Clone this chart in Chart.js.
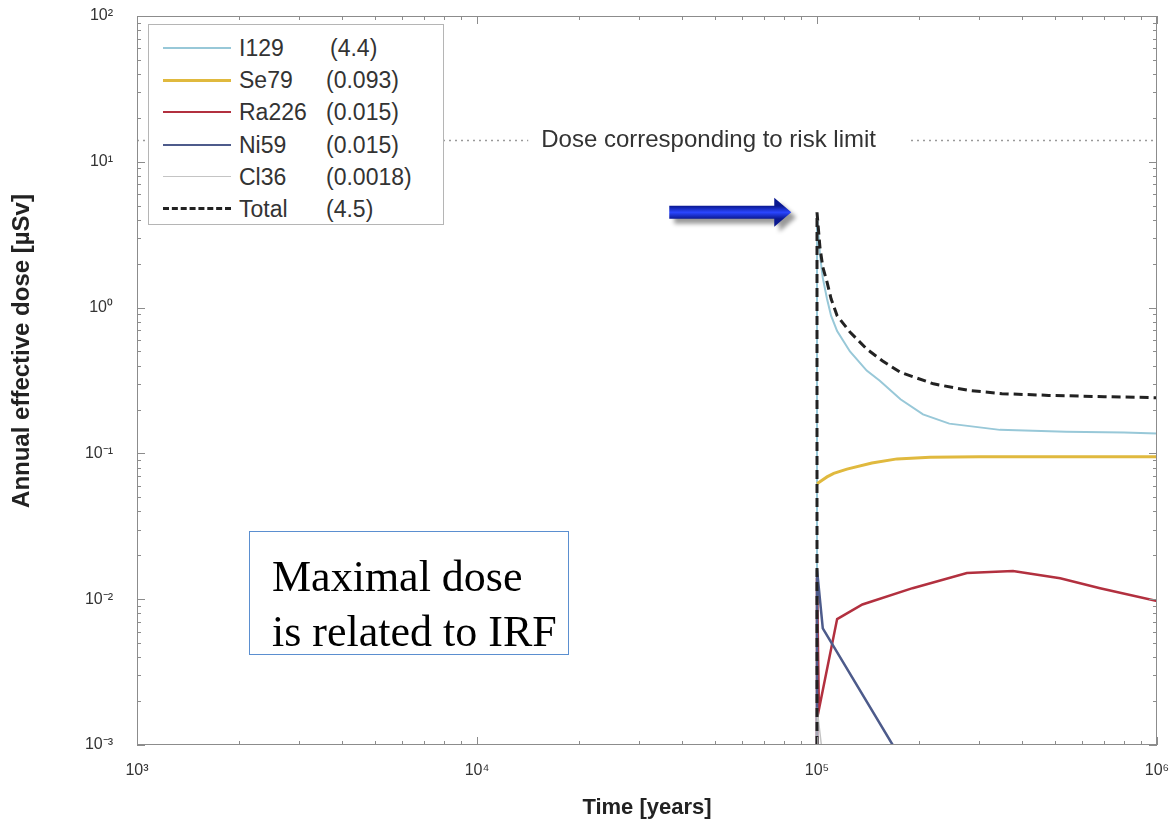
<!DOCTYPE html>
<html>
<head>
<meta charset="utf-8">
<title>Annual effective dose</title>
<script src="https://cdn.jsdelivr.net/npm/chart.js@4/dist/chart.umd.min.js"></script>
<style>
    body { margin: 0; background: #fff; }
    #wrap { position: relative; width: 1171px; height: 826px; }
    #legend {
        position: absolute; left: 148px; top: 24px; width: 294px; height: 199px;
        border: 1px solid #b5b5b5; background: #fff;
        font-family: "Liberation Sans", Arial, sans-serif; font-size: 23px; color: #333;
    }
    .row { position: absolute; left: 0; width: 100%; height: 32px; }
    .sample { position: absolute; left: 14px; width: 68px; top: 15px; height: 0; }
    .name, .value { position: absolute; top: 2px; white-space: nowrap; line-height: 28px; }
    .name { left: 90px; }
    .value { left: 177px; }
    #note {
        position: absolute; left: 249px; top: 531px; width: 320px; height: 124px;
        box-sizing: border-box; border: 1px solid #5b8fd0; padding: 17px 0 0 22px;
        font-family: "Liberation Serif", "Times New Roman", serif; font-size: 44px;
        line-height: 55px; color: #000; background: #fff;
    }
</style>
</head>
<body>
<div id="wrap">
    <canvas id="graficoDose"></canvas>
    <div id="legend"></div>
    <div id="note"></div>
</div>

<script>
// legend entries (name and maximal dose in brackets)
const nuclideNames = ["I129", "Se79", "Ra226", "Ni59", "Cl36", "Total"];
const nuclideMax = ["(4.4)", "(0.093)", "(0.015)", "(0.015)", "(0.0018)", "(4.5)"];

// time [years] and dose [µSv]
const i129Time = [1e5, 1e5, 1.02e5, 1.04e5, 1.07e5, 1.1e5, 1.146e5, 1.25e5, 1.4e5, 1.53e5, 1.76e5, 2.05e5, 2.45e5, 3.45e5, 5.4e5, 8e5, 1e6];
const i129Dose = [0.001, 4.4, 2.3, 1.6, 1.15, 0.88, 0.69, 0.5, 0.37, 0.315, 0.235, 0.185, 0.16, 0.145, 0.141, 0.139, 0.137];

const se79Time = [1e5, 1.03e5, 1.07e5, 1.12e5, 1.225e5, 1.45e5, 1.72e5, 2.15e5, 3e5, 6e5, 1e6];
const se79Dose = [0.062, 0.065, 0.069, 0.073, 0.078, 0.086, 0.0917, 0.094, 0.095, 0.095, 0.095];

const ra226Time = [1e5, 1e5, 1.013e5, 1.146e5, 1.36e5, 1.91e5, 2.76e5, 3.77e5, 5.19e5, 6.8e5, 1e6];
const ra226Dose = [0.001, 0.014, 0.00175, 0.0073, 0.0092, 0.0119, 0.0151, 0.0156, 0.0139, 0.0119, 0.0097];

const ni59Time = [1e5, 1e5, 1.04e5, 1.67e5];
const ni59Dose = [0.001, 0.016, 0.0063, 0.001];

const cl36Time = [1e5, 1e5, 1.03e5];
const cl36Dose = [0.001, 0.0018, 0.001];

const totalTime = [1e5, 1e5, 1.02e5, 1.04e5, 1.07e5, 1.1e5, 1.146e5, 1.25e5, 1.4e5, 1.56e5, 1.76e5, 2.2e5, 2.8e5, 3.5e5, 4.8e5, 7e5, 1e6];
const totalDose = [0.001, 4.5, 2.6, 1.9, 1.5, 1.15, 0.88, 0.68, 0.52, 0.43, 0.36, 0.3, 0.27, 0.257, 0.25, 0.245, 0.241];

const riskTime = [1e3, 1e6];
const riskDose = [14, 14];
const riskText = "Dose corresponding to risk limit";

const noteLines = ["Maximal dose", "is related to IRF"];
const arrowTip = [8.4e4, 4.5];

// styles
const lineColors = ["#98c8d8", "#e0b93e", "#b2303f", "#4d5b8b", "#c4c4c4", "#222222"];
const lineWidths = [2, 3, 2.5, 2.5, 1.5, 3];

const superDigits = {
    "-": "⁻", "0": "⁰", "1": "¹", "2": "²", "3": "³",
    "4": "⁴", "5": "⁵", "6": "⁶", "7": "⁷", "8": "⁸", "9": "⁹"
};

function powerLabel(value) {
    let exp = Math.log10(value);
    if (Math.abs(exp - Math.round(exp)) > 1e-6) return "";
    return "10" + String(Math.round(exp)).split("").map(function(c) {
        return superDigits[c];
    }).join("");
}

function toPoints(times, doses) {
    return times.map(function(t, i) {
        return { x: t, y: doses[i] };
    });
}

function montarLegenda() {
    const box = document.getElementById("legend");
    nuclideNames.forEach(function(name, i) {
        let row = document.createElement("div");
        row.className = "row";
        row.style.top = (7 + i * 32.2) + "px";

        let sample = document.createElement("div");
        sample.className = "sample";
        if (name === "Total") {
            sample.style.borderTop = "3px dashed " + lineColors[i];
            sample.style.marginTop = "-1px";
        } else {
            sample.style.borderTop = lineWidths[i] + "px solid " + lineColors[i];
        }

        let label = document.createElement("span");
        label.className = "name";
        label.textContent = name;

        let value = document.createElement("span");
        value.className = "value";
        value.textContent = nuclideMax[i];
        if (name === "I129") value.style.left = "181px";

        row.appendChild(sample);
        row.appendChild(label);
        row.appendChild(value);
        box.appendChild(row);
    });

    document.getElementById("note").innerHTML = noteLines.join("<br>");
}

const extras = {
    id: "extras",

    afterDatasetsDraw(chart) {
        const ctx = chart.ctx;
        const a = chart.chartArea;
        const xs = chart.scales.x;
        const ys = chart.scales.y;

        ctx.save();

        // frame
        ctx.strokeStyle = "#8c8c8c";
        ctx.lineWidth = 1;
        ctx.strokeRect(a.left + 0.5, a.top + 0.5, a.right - a.left - 1, a.bottom - a.top - 1);

        // inward tick marks, MATLAB style
        ctx.beginPath();
        for (let e = 3; e <= 6; e++) {
            for (let k = 1; k <= 9; k++) {
                let v = k * Math.pow(10, e);
                if (v > 1e6) break;
                let px = Math.round(xs.getPixelForValue(v)) + 0.5;
                let len = k === 1 ? 8 : 4;
                ctx.moveTo(px, a.bottom); ctx.lineTo(px, a.bottom - len);
                ctx.moveTo(px, a.top); ctx.lineTo(px, a.top + len);
            }
        }
        for (let e = -3; e <= 2; e++) {
            for (let k = 1; k <= 9; k++) {
                let v = k * Math.pow(10, e);
                if (v > 100) break;
                let py = Math.round(ys.getPixelForValue(v)) + 0.5;
                let len = k === 1 ? 8 : 4;
                ctx.moveTo(a.left, py); ctx.lineTo(a.left + len, py);
                ctx.moveTo(a.right, py); ctx.lineTo(a.right - len, py);
            }
        }
        ctx.stroke();

        // risk limit label on the dotted line
        let ry = ys.getPixelForValue(riskDose[0]);
        let cx = xs.getPixelForValue(4.8e4);
        ctx.font = "24px 'Liberation Sans', Arial, sans-serif";
        let w = ctx.measureText(riskText).width;
        ctx.fillStyle = "#fff";
        ctx.fillRect(cx - w / 2 - 13, ry - 14, w + 46, 28);
        ctx.fillStyle = "#333";
        ctx.textAlign = "center";
        ctx.textBaseline = "middle";
        ctx.fillText(riskText, cx, ry);

        // blue arrow pointing at the peak
        let tipX = xs.getPixelForValue(arrowTip[0]);
        let tipY = ys.getPixelForValue(arrowTip[1]);
        const len = 122, shaftH = 13, headH = 29, headL = 17;
        let g = ctx.createLinearGradient(0, tipY - shaftH / 2, 0, tipY + shaftH / 2);
        g.addColorStop(0, "#0a1890");
        g.addColorStop(0.5, "#2a46ff");
        g.addColorStop(1, "#0a1890");
        ctx.shadowColor = "rgba(0,0,0,0.4)";
        ctx.shadowBlur = 4;
        ctx.shadowOffsetX = 5;
        ctx.shadowOffsetY = 5;
        ctx.fillStyle = g;
        ctx.beginPath();
        ctx.moveTo(tipX - len, tipY - shaftH / 2);
        ctx.lineTo(tipX - headL, tipY - shaftH / 2);
        ctx.lineTo(tipX - headL, tipY - headH / 2);
        ctx.lineTo(tipX, tipY);
        ctx.lineTo(tipX - headL, tipY + headH / 2);
        ctx.lineTo(tipX - headL, tipY + shaftH / 2);
        ctx.lineTo(tipX - len, tipY + shaftH / 2);
        ctx.closePath();
        ctx.fill();
        ctx.shadowColor = "transparent";

        // y axis title
        ctx.translate(22, 351);
        ctx.rotate(-Math.PI / 2);
        ctx.font = "bold 24px 'Liberation Sans', Arial, sans-serif";
        ctx.fillStyle = "#222";
        ctx.fillText("Annual effective dose [µSv]", 0, 0);

        ctx.restore();
    }
};

let graficoDose;

function criarGrafico() {

    const ctx = document.getElementById("graficoDose");

    const series = [
        toPoints(i129Time, i129Dose),
        toPoints(se79Time, se79Dose),
        toPoints(ra226Time, ra226Dose),
        toPoints(ni59Time, ni59Dose),
        toPoints(cl36Time, cl36Dose),
        toPoints(totalTime, totalDose)
    ];

    let datasets = series.map(function(points, i) {
        return {
            label: nuclideNames[i],
            data: points,
            borderColor: lineColors[i],
            borderWidth: lineWidths[i],
            borderDash: nuclideNames[i] === "Total" ? [9, 5] : [],
            order: nuclideNames[i] === "Total" ? 0 : 6 - i,
            pointRadius: 0,
            tension: 0,
            fill: false
        };
    });

    datasets.push({
        label: "Risk limit",
        data: toPoints(riskTime, riskDose),
        borderColor: "#9a9a9a",
        borderWidth: 1.5,
        borderDash: [2, 4],
        order: 10,
        pointRadius: 0,
        fill: false
    });

    const tickFont = { family: "'Liberation Sans', Arial, sans-serif", size: 16 };

    graficoDose = new Chart(ctx, {

        type: "line",

        data: { datasets: datasets },

        options: {
            responsive: true,
            maintainAspectRatio: false,
            animation: false,
            layout: { padding: { top: 16, right: 14, left: 0, bottom: 0 } },

            plugins: {
                legend: { display: false },
                tooltip: { enabled: false }
            },

            scales: {
                x: {
                    type: "logarithmic",
                    min: 1e3,
                    max: 1e6,
                    grid: { display: false, drawTicks: false },
                    border: { display: false },
                    ticks: {
                        autoSkip: false,
                        maxRotation: 0,
                        padding: 16,
                        color: "#333",
                        font: tickFont,
                        callback: powerLabel
                    },
                    title: {
                        display: true,
                        text: "Time [years]",
                        color: "#222",
                        font: { family: "'Liberation Sans', Arial, sans-serif", size: 22, weight: "bold" },
                        padding: { top: 0, bottom: 5 }
                    },
                    afterFit: function(scale) {
                        scale.height = 81;
                        scale.paddingLeft = 0;
                        scale.paddingRight = 0;
                    }
                },

                y: {
                    type: "logarithmic",
                    min: 1e-3,
                    max: 1e2,
                    grid: { display: false, drawTicks: false },
                    border: { display: false },
                    ticks: {
                        autoSkip: false,
                        padding: 24,
                        color: "#333",
                        font: tickFont,
                        callback: powerLabel
                    },
                    afterFit: function(scale) {
                        scale.width = 137;
                        scale.paddingTop = 0;
                        scale.paddingBottom = 0;
                    }
                }
            }
        },

        plugins: [extras]
    });
}

montarLegenda();
criarGrafico();
</script>
</body>
</html>
